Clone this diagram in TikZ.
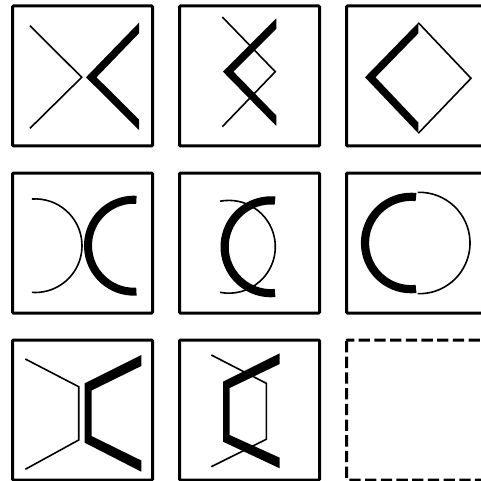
\documentclass[tikz,border=0pt]{standalone}
\usepackage{tikz}

\begin{document}
\begin{tikzpicture}[x=1pt,y=1pt,yscale=-1,line join=miter,
  frame/.style={line width=3pt,rounded corners=1pt},
  thinline/.style={line width=1.6pt},
  band/.style={fill=black}]

  % fixed page size, third column runs off the right edge
  \useasboundingbox (0,0) rectangle (481,481);
  \clip (0,0) rectangle (481,481);

  %% ---------------------------------------------------------------
  %% ROW 1
  %% ---------------------------------------------------------------
  \begin{scope}[shift={(12.5,6)}]
    \draw[frame] (0,0) rectangle (140,140);
    % thin half of the crossing
    \draw[thinline] (17.5,19.7) -- (69.2,71.3) -- (17.5,122.3);
    % thick half, cut square at the ends
    \fill[band] (126.5,16.7) -- (73.5,71.3) -- (126.5,124)
      -- (126.5,113.5) -- (84,71.3) -- (126.5,27.2) -- cycle;
  \end{scope}

  \begin{scope}[shift={(179.5,6)}]
    \draw[frame] (0,0) rectangle (140,140);
    \draw[thinline] (42.8,11) -- (95.8,65.7) -- (42.8,120.7);
    \fill[band] (96.8,12.3) -- (43.5,65.7) -- (96.8,120)
      -- (96.8,109.5) -- (54,65.7) -- (96.8,22.8) -- cycle;
  \end{scope}

  \begin{scope}[shift={(346.5,6)}]
    \draw[frame] (0,0) rectangle (140,140);
    % diamond: thin right half, thick left half
    \draw[thinline] (71.8,16.7) -- (124.5,72.3) -- (71.8,127.3);
    \fill[band] (71.8,16.7) -- (18.5,71.3) -- (71.8,127.3)
      -- (71.8,116.5) -- (29,71.3) -- (71.8,27.4) -- cycle;
  \end{scope}

  %% ---------------------------------------------------------------
  %% ROW 2
  %% ---------------------------------------------------------------
  \begin{scope}[shift={(12.5,173)}]
    \draw[frame] (0,0) rectangle (140,140);
    % thin arc ")"
    \draw[thinline,shift={(22.7,72.7)}] (-94:46.8)
      arc[start angle=-94,end angle=94,radius=46.8];
    % thick arc "("
    \fill[band,shift={(121.5,72.7)}] (87:50)
      arc[start angle=87,end angle=273,radius=50]
      -- (273:42) arc[start angle=273,end angle=87,radius=42] -- cycle;
  \end{scope}

  \begin{scope}[shift={(179.5,173)}]
    \draw[frame] (0,0) rectangle (140,140);
    \draw[thinline,shift={(49.4,73.8)}] (-101:46.4)
      arc[start angle=-101,end angle=101,radius=46.4];
    \fill[band,shift={(91.5,73.8)}] (85:50.5)
      arc[start angle=85,end angle=275,radius=50.5]
      -- (275:42.3) arc[start angle=275,end angle=85,radius=42.3] -- cycle;
  \end{scope}

  \begin{scope}[shift={(346.5,173)}]
    \draw[frame] (0,0) rectangle (140,140);
    % circle: thin right half, thick left half
    \draw[thinline,shift={(72.8,70)}] (-92:50.7)
      arc[start angle=-92,end angle=92,radius=50.7];
    \fill[band,shift={(64.7,70)}] (84:50.3)
      arc[start angle=84,end angle=276,radius=50.3]
      -- (276:42.1) arc[start angle=276,end angle=84,radius=42.1] -- cycle;
  \end{scope}

  %% ---------------------------------------------------------------
  %% ROW 3
  %% ---------------------------------------------------------------
  \begin{scope}[shift={(12.5,340)}]
    \draw[frame] (0,0) rectangle (140,140);
    \draw[thinline] (12.8,19) -- (66.2,46.7) -- (66.2,100) -- (12.8,129.3);
    \fill[band] (128.8,15) -- (72.2,43.3) -- (72.2,102.7) -- (128.8,131.7)
      -- (128.8,120.5) -- (79,96) -- (79,50.5) -- (128.8,26) -- cycle;
  \end{scope}

  \begin{scope}[shift={(179.5,340)}]
    \draw[frame] (0,0) rectangle (140,140);
    \draw[thinline] (31.8,15) -- (86.8,43.3) -- (86.8,99.3) -- (31.8,126.7);
    \fill[band] (100.2,13.3) -- (43.5,41.7) -- (43.5,101.7) -- (100.2,128.3)
      -- (100.2,117.7) -- (50.2,95) -- (50.2,48) -- (100.2,24) -- cycle;
  \end{scope}

  % empty slot
  \begin{scope}[shift={(346.5,340)}]
    \draw[frame,dash pattern=on 11.3pt off 4.4pt] (0,0) rectangle (140,140);
  \end{scope}

\end{tikzpicture}
\end{document}
